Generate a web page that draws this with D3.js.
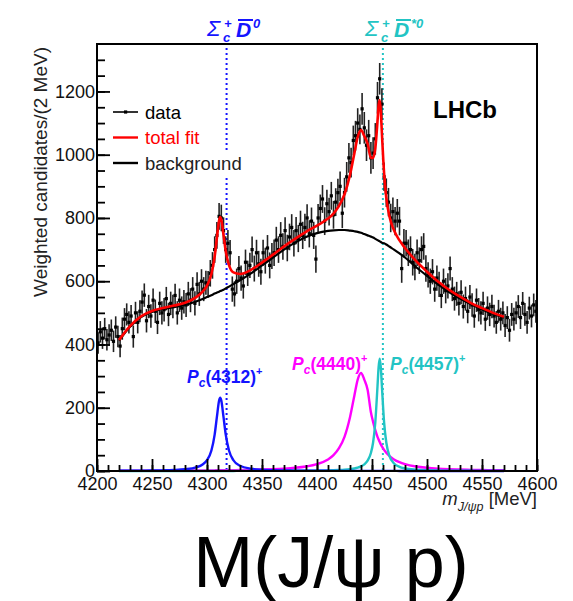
<!DOCTYPE html>
<html>
<head>
<meta charset="utf-8">
<script src="https://cdn.jsdelivr.net/npm/d3@7"></script>
<style>
  body { margin: 0; background: #fff; }
  svg text { font-family: "Liberation Sans", Arial, Helvetica, sans-serif; }
</style>
</head>
<body>
<svg width="573" height="601"></svg>
<script>
// binned data, 2 MeV bins from 4200 MeV
const binLow = 4200
const binWidth = 2
const counts = [
  405, 440, 420, 450, 415, 430, 445, 410, 455, 425,
  395, 450, 480, 495, 470, 490, 425, 500, 470, 505,
  534, 556, 475, 520, 490, 540, 505, 470, 530, 500,
  510, 545, 495, 530, 520, 555, 500, 540, 515, 535,
  525, 560, 540, 575, 530, 590, 560, 600, 575, 595,
  590, 625, 650, 700, 745, 805, 800, 760, 700, 720,
  690, 575, 560, 600, 640, 610, 585, 660, 625, 650,
  700, 640, 690, 655, 630, 690, 665, 705, 650, 680,
  690, 730, 700, 745, 710, 760, 705, 740, 770, 720,
  760, 735, 780, 745, 770, 800, 750, 790, 745, 670,
  800, 830, 860, 790, 845, 820, 870, 810, 850, 880,
  900, 815, 880, 930, 990, 975, 1045, 1060, 1100, 1080,
  1145, 1085, 1030, 1060, 990, 1005, 1050, 1180, 1240, 1160,
  930, 880, 850, 800, 820, 790, 815, 790, 640, 720,
  720, 690, 700, 660, 645, 690, 665, 700, 710, 640,
  620, 600, 630, 575, 610, 590, 555, 600, 570, 585,
  640, 575, 545, 560, 530, 565, 520, 545, 505, 550,
  525, 490, 540, 510, 500, 530, 480, 515, 495, 520,
  490, 470, 505, 480, 500, 460, 485, 445, 495, 480,
  500, 520, 485, 530, 495, 470, 515, 490, 525, 505
]
// error bar half-length, one value per 20 MeV (10 bins)
const errGroups = [34, 35, 37, 37, 38, 42, 40, 41, 42, 43, 44, 47, 50, 45, 42, 40, 38, 37, 36, 36]

// fit curves sampled at these masses
const fitMass = [4220, 4230, 4240, 4250, 4260, 4270, 4280, 4290, 4296, 4300,
  4304, 4307, 4309, 4311, 4312, 4313, 4315, 4317, 4320, 4324,
  4330, 4340, 4350, 4360, 4370, 4380, 4390, 4400, 4410, 4415,
  4420, 4425, 4430, 4434, 4437, 4440, 4443, 4446, 4449, 4451,
  4453, 4455, 4456, 4457, 4458, 4459, 4461, 4463, 4466, 4470,
  4475, 4480, 4490, 4500, 4510, 4520, 4530, 4540, 4550, 4560, 4570]
const totalFit = [414, 458, 489, 506, 515, 523, 532, 549, 567, 586,
  623, 679, 737, 792, 803, 795, 747, 696, 651, 628,
  623, 636, 659, 684, 710, 734, 756, 776, 798, 814,
  838, 875, 936, 1005, 1056, 1078, 1059, 1035, 990, 990,
  1020, 1106, 1156, 1173, 1137, 1068, 941, 864, 803, 761,
  729, 705, 664, 630, 599, 573, 551, 531, 515, 500, 488]
const bkgFit = [412, 456, 487, 503, 512, 518, 525, 536, 544, 550,
  556, 561, 564, 567, 569, 570, 573, 577, 583, 591,
  603, 625, 650, 675, 700, 722, 740, 752, 759, 761,
  762, 762, 760, 758, 756, 753, 749, 745, 741, 738,
  734, 730, 728, 726, 724, 722, 720, 716, 709, 700,
  688, 675, 645, 617, 590, 566, 545, 527, 511, 497, 485]
const pc4312 = [0.7, 0.9, 1.1, 1.5, 2.1, 3.2, 5.5, 11.4, 20.6, 34.3,
  65, 116, 171, 223, 232, 223, 171, 116, 65, 34,
  16.6, 7.2, 3.9, 2.5, 1.7, 1.3, 1.0, 0.8, 0.6, 0.5,
  0.5, 0.5, 0.4, 0.4, 0.4, 0.4, 0.3, 0.3, 0.3, 0.3,
  0.3, 0.3, 0.3, 0.3, 0.3, 0.3, 0.3, 0.3, 0.3, 0.3,
  0.2, 0.2, 0.2, 0.2, 0.2, 0.1, 0.1, 0.1, 0.1, 0.1, 0.1]
const pc4440 = [0.8, 0.9, 0.9, 1.0, 1.2, 1.3, 1.5, 1.7, 1.8, 1.9,
  2.0, 2.1, 2.2, 2.2, 2.3, 2.3, 2.4, 2.5, 2.6, 2.8,
  3.1, 3.7, 4.6, 5.8, 7.5, 10.1, 14.3, 21.8, 36.7, 50,
  72, 108, 170, 239, 289, 310, 289, 257, 186, 155,
  129, 108, 99.5, 91.5, 84.3, 77.8, 66.7, 57.7, 47, 36.7,
  27.9, 21.8, 14.3, 10.1, 7.5, 5.8, 4.6, 3.7, 3.1, 2.6, 2.2]
const pc4457 = [0.1, 0.1, 0.1, 0.1, 0.1, 0.1, 0.1, 0.1, 0.2, 0.2,
  0.2, 0.2, 0.2, 0.2, 0.2, 0.2, 0.2, 0.2, 0.2, 0.2,
  0.3, 0.3, 0.4, 0.5, 0.6, 0.7, 1.0, 1.3, 2.0, 2.5,
  3.2, 4.2, 5.9, 8.0, 10.5, 14.4, 20.9, 32.6, 57, 90,
  154, 268, 328, 355, 328, 268, 154, 90, 46.6, 24,
  13, 8, 4.0, 2.3, 1.5, 1.1, 0.8, 0.6, 0.5, 0.4, 0.3]

// Sigma_c D-bar thresholds
const thresholds = [4317.8, 4459.9]
const xTickLabels = [4200, 4250, 4300, 4350, 4400, 4450, 4500, 4550, 4600]
const yTickLabels = [0, 200, 400, 600, 800, 1000, 1200]

const blue = "#1414ff"
const magenta = "#ff00ff"
const cyan = "#22c4c4"

const svg = d3.select("svg")
const x = d3.scaleLinear().domain([4200, 4600]).range([97, 537])
const y = d3.scaleLinear().domain([0, 1350]).range([471, 44])

// threshold lines
svg.selectAll(".thr")
  .data(thresholds)
  .join("line")
  .attr("x1", d => x(d)).attr("x2", d => x(d))
  .attr("y1", 48).attr("y2", y(0))
  .attr("stroke", (d, i) => i == 0 ? blue : cyan)
  .attr("stroke-width", 2)
  .attr("stroke-dasharray", "2,3")

// data points with error bars
const pts = counts.map((v, i) => ({
  m: binLow + binWidth * (i + 0.5),
  v: v,
  e: errGroups[Math.floor(i / 10)]
}))
const gData = svg.append("g")
gData.selectAll("line")
  .data(pts)
  .join("line")
  .attr("x1", d => x(d.m)).attr("x2", d => x(d.m))
  .attr("y1", d => y(d.v - d.e)).attr("y2", d => y(d.v + d.e))
  .attr("stroke", "#222")
  .attr("stroke-width", 1.6)
gData.selectAll("rect")
  .data(pts)
  .join("rect")
  .attr("x", d => x(d.m) - 1.6).attr("y", d => y(d.v) - 1.6)
  .attr("width", 3.2).attr("height", 3.2)
  .attr("fill", "#000")

const line = d3.line()
  .x(d => x(d[0]))
  .y(d => y(d[1]))
  .curve(d3.curveMonotoneX)
const curve = (vals, color, w) => svg.append("path")
  .attr("d", line(fitMass.map((m, i) => [m, vals[i]])))
  .attr("fill", "none")
  .attr("stroke", color)
  .attr("stroke-width", w)

curve(bkgFit, "#000", 2.2)
curve(totalFit, "#ff0000", 2.6)
curve(pc4440, magenta, 2.4)
curve(pc4457, cyan, 2.4)
curve(pc4312, blue, 2.4)

// axes
svg.append("g")
  .attr("transform", `translate(0,${y(0)})`)
  .call(d3.axisBottom(x).tickValues(xTickLabels).tickSizeInner(-12).tickSizeOuter(0).tickPadding(6).tickFormat(d3.format("d")))
svg.append("g")
  .attr("transform", `translate(0,${y(0)})`)
  .call(d3.axisBottom(x).tickValues(d3.range(4200, 4601, 10)).tickSize(-6).tickFormat(""))
svg.append("g")
  .attr("transform", `translate(${x(4200)},0)`)
  .call(d3.axisLeft(y).tickValues(yTickLabels).tickSizeInner(-13).tickSizeOuter(0).tickPadding(2).tickFormat(d3.format("d")))
svg.append("g")
  .attr("transform", `translate(${x(4200)},0)`)
  .call(d3.axisLeft(y).tickValues(d3.range(0, 1350, 50)).tickSize(-8).tickFormat(""))
svg.selectAll(".domain").remove()
svg.selectAll(".tick line").attr("stroke", "#000").attr("stroke-width", 1.8)
svg.selectAll(".tick text").attr("font-size", 18).attr("fill", "#111")
  .style("font-family", "'Liberation Sans', Arial, sans-serif")

// frame
svg.append("rect")
  .attr("x", x(4200)).attr("y", y(1350))
  .attr("width", x(4600) - x(4200)).attr("height", y(0) - y(1350))
  .attr("fill", "none").attr("stroke", "#000").attr("stroke-width", 2)

// axis titles
svg.append("text")
  .attr("transform", "translate(47,47) rotate(-90)")
  .attr("text-anchor", "end")
  .attr("font-size", 19)
  .attr("fill", "#222")
  .text("Weighted candidates/(2 MeV)")

const xt = svg.append("text")
  .attr("x", 537).attr("y", 505)
  .attr("text-anchor", "end")
  .attr("font-size", 18.5)
  .attr("fill", "#222")
xt.append("tspan").attr("font-style", "italic").text("m")
xt.append("tspan").attr("font-style", "italic").attr("font-size", 12.5).attr("dy", 6).text("J/ψp")
xt.append("tspan").attr("dy", -6).text(" [MeV]")

// legend
const legend = [
  { label: "data", color: "#000", fill: "#000" },
  { label: "total fit", color: "#ff0000", fill: "#ff0000" },
  { label: "background", color: "#000", fill: "#222" }
]
const lg = svg.append("g")
lg.append("rect").attr("x", 143).attr("y", 152).attr("width", 104).attr("height", 26).attr("fill", "#fff")
legend.forEach((d, i) => {
  const yy = 112 + i * 25.5
  lg.append("line").attr("x1", 113).attr("x2", 138).attr("y1", yy).attr("y2", yy)
    .attr("stroke", d.color).attr("stroke-width", i == 0 ? 1.6 : 2.4)
  if (i == 0) lg.append("rect").attr("x", 124).attr("y", yy - 1.6).attr("width", 3.2).attr("height", 3.2).attr("fill", "#000")
  lg.append("text").attr("x", 145).attr("y", yy + 6.5).attr("font-size", 18.5)
    .attr("fill", d.fill).text(d.label)
})

svg.append("text").attr("x", 433).attr("y", 118)
  .attr("font-size", 24).attr("font-weight", "bold").attr("fill", "#000").text("LHCb")

// threshold labels
function thrLabel(x0, color, sup) {
  const g = svg.append("g").attr("fill", color).attr("font-style", "italic")
  g.append("text").attr("x", x0).attr("y", 36).attr("font-size", 22).text("Σ")
  g.append("text").attr("x", x0 + 16).attr("y", 42).attr("font-size", 13).attr("font-weight", "bold").text("c")
  g.append("text").attr("x", x0 + 17).attr("y", 28).attr("font-size", 13).attr("font-weight", "bold").text("+")
  g.append("text").attr("x", x0 + 29).attr("y", 37).attr("font-size", 21).attr("font-weight", "bold").text("D")
  g.append("line").attr("x1", x0 + 31).attr("x2", x0 + 46).attr("y1", 20).attr("y2", 20)
    .attr("stroke", color).attr("stroke-width", 2)
  g.append("text").attr("x", x0 + 46).attr("y", 28).attr("font-size", 13).attr("font-weight", "bold").text(sup)
}
thrLabel(207, blue, "0")
thrLabel(365, cyan, "*0")

// Pc labels
function pcLabel(x0, y0, color, name) {
  const t = svg.append("text").attr("x", x0).attr("y", y0)
    .attr("fill", color).attr("font-size", 17.5).attr("font-weight", "bold")
  t.append("tspan").attr("font-style", "italic").text("P")
  t.append("tspan").attr("font-style", "italic").attr("font-size", 12).attr("dy", 4).text("c")
  t.append("tspan").attr("dy", -4).text(`(${name})`)
  t.append("tspan").attr("font-size", 11).attr("dy", -8).text("+")
}
pcLabel(187, 383, blue, "4312")
pcLabel(292, 370, magenta, "4440")
pcLabel(390, 370, cyan, "4457")

// caption
svg.append("text").attr("x", 331).attr("y", 587)
  .attr("text-anchor", "middle").attr("font-size", 72).attr("fill", "#000")
  .text("M(J/ψ p)")
</script>
</body>
</html>
